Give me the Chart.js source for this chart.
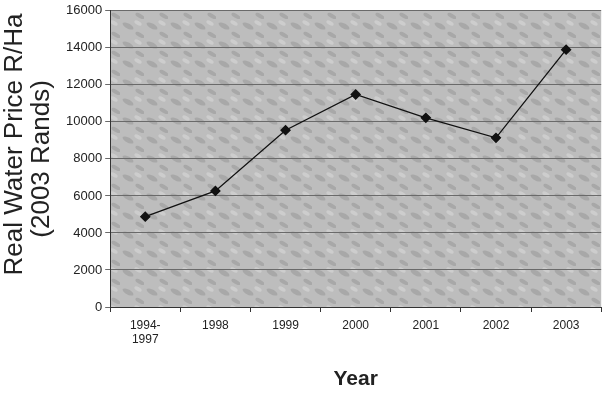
<!DOCTYPE html>
<html>
<head>
<meta charset="utf-8">
<script src="https://cdn.jsdelivr.net/npm/chart.js@4/dist/chart.umd.min.js"></script>
<style>
	html, body { margin: 0; padding: 0; background: #fff; }
	#wrap { width: 607px; height: 394px; }
</style>
</head>
<body>
<div id="wrap"><canvas id="canvasPrice"></canvas></div>
<script>
"use strict"

// data
var years = [['1994-', '1997'], '1998', '1999', '2000', '2001', '2002', '2003']
var prices = [4880, 6270, 9550, 11480, 10220, 9140, 13900]
var yTicks = [0, 2000, 4000, 6000, 8000, 10000, 12000, 14000, 16000]

// grey mottled fill for the plot area
function MakePattern() {
	const tile = document.createElement('canvas')
	tile.width = 24
	tile.height = 19
	const c = tile.getContext('2d')
	c.fillStyle = '#bdbdbd'
	c.fillRect(0, 0, 24, 19)
	c.fillStyle = 'rgba(120,120,120,0.3)'
	c.beginPath()
	c.ellipse(8, 7, 6, 2.5, 0.5, 0, Math.PI * 2)
	c.fill()
	c.beginPath()
	c.ellipse(20, 16, 5, 2, 0.5, 0, Math.PI * 2)
	c.fill()
	c.fillStyle = 'rgba(230,230,230,0.4)'
	c.beginPath()
	c.ellipse(18, 4, 4, 2, 0.5, 0, Math.PI * 2)
	c.fill()
	return c.createPattern(tile, 'repeat')
}

const plotBackground = {
	id: 'plotBackground',
	beforeDraw(chart) {
		const { ctx, chartArea } = chart
		ctx.save()
		ctx.fillStyle = MakePattern()
		ctx.fillRect(chartArea.left, chartArea.top, chartArea.right - chartArea.left, chartArea.bottom - chartArea.top)
		ctx.restore()
	}
}

const context = document.getElementById('canvasPrice').getContext('2d')
const myChart = new Chart(context, {
	type: 'line',
	data: {
		labels: years,
		datasets: [{
			label: 'Real Water Price',
			data: prices,
			borderColor: '#111',
			borderWidth: 1.3,
			pointStyle: 'rectRot',
			pointRadius: 4.5,
			pointBackgroundColor: '#111',
			pointBorderColor: '#111',
			tension: 0
		}]
	},
	options: {
		responsive: true,
		maintainAspectRatio: false,
		animation: false,
		layout: { padding: { top: 2, right: 4, left: 2, bottom: 2 } },
		plugins: {
			legend: { display: false },
			tooltip: { enabled: false }
		},
		scales: {
			x: {
				offset: true,
				grid: {
					offset: true,
					drawOnChartArea: false,
					drawTicks: true,
					tickLength: 5,
					color: '#333'
				},
				border: { color: '#333', width: 1 },
				ticks: {
					color: '#222',
					font: { family: 'Liberation Sans, Arial', size: 12 },
					padding: 6,
					maxRotation: 0
				},
				title: {
					display: true,
					text: 'Year',
					color: '#222',
					font: { family: 'Liberation Sans, Arial', size: 21, weight: 'bold' },
					padding: { top: 14, bottom: 0 }
				}
			},
			y: {
				min: 0,
				max: 16000,
				afterBuildTicks: function (axis) {
					axis.ticks = yTicks.map(function (v) { return { value: v } })
				},
				grid: {
					color: '#6a6a6a',
					lineWidth: 1,
					tickLength: 5
				},
				border: { color: '#333', width: 1 },
				ticks: {
					color: '#222',
					font: { family: 'Liberation Sans, Arial', size: 13 },
					padding: 3,
					callback: function (value) { return String(value) }
				},
				title: {
					display: true,
					text: ['    Real Water Price R/Ha', '(2003 Rands)'],
					color: '#222',
					font: { family: 'Liberation Sans, Arial', size: 26, lineHeight: 1.02 },
					padding: { top: 0, bottom: 8 }
				}
			}
		}
	},
	plugins: [plotBackground]
})
</script>
</body>
</html>
